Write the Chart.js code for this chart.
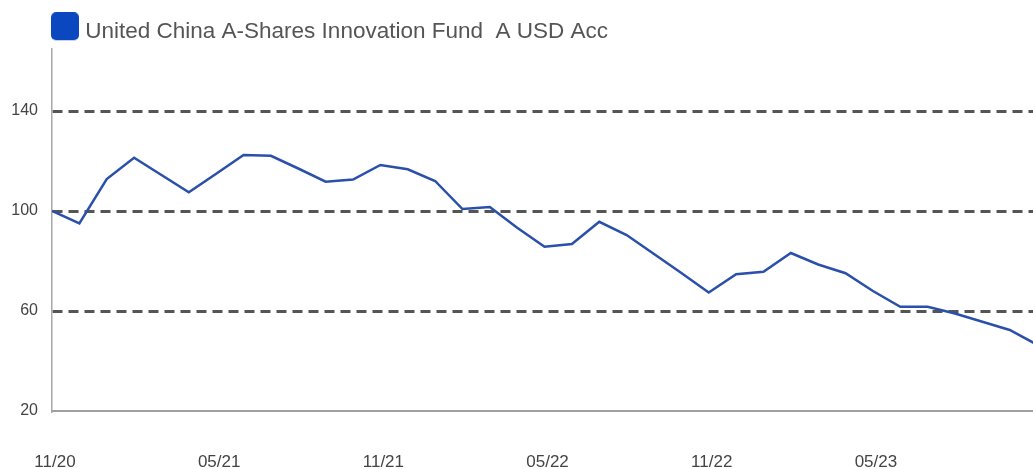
<!DOCTYPE html>
<html>
<head>
<meta charset="utf-8">
<script src="https://cdn.jsdelivr.net/npm/chart.js@4/dist/chart.umd.min.js"></script>
<style>
  html, body { margin: 0; padding: 0; background: #fff; }
  #wrap { width: 1033px; height: 469px; position: relative; }
</style>
</head>
<body>
<div id="wrap"><canvas id="c"></canvas></div>
<script>
const seriesName = 'United China A-Shares Innovation Fund  A USD Acc';
const months = ['11/20','12/20','01/21','02/21','03/21','04/21','05/21','06/21','07/21','08/21','09/21','10/21',
                '11/21','12/21','01/22','02/22','03/22','04/22','05/22','06/22','07/22','08/22','09/22','10/22',
                '11/22','12/22','01/23','02/23','03/23','04/23','05/23','06/23','07/23','08/23','09/23','10/23','11/23'];
const fundValues = [100, 95.0, 112.8, 121.3, 114.4, 107.5, 114.9, 122.4, 122.1, 117, 111.7, 112.6,
                    118.4, 116.7, 112, 100.8, 101.6, 93.3, 85.7, 86.8, 95.7, 90.4, 82.8, 75.2,
                    67.4, 74.7, 75.7, 83.2, 78.6, 75.1, 68, 61.7, 61.7, 59, 55.7, 52.4, 46.5];
const yTickValues = [20, 60, 100, 140];
const xTickIndices = [0, 6, 12, 18, 24, 30];

const lineColor = '#2a50aa';
const boxColor = '#0b48c0';
const FONT = '"Liberation Sans", Arial, sans-serif';

// legend marker: rounded square, placed within a slightly larger transparent canvas
const marker = document.createElement('canvas');
marker.width = 32; marker.height = 40;
(function () {
  const m = marker.getContext('2d');
  m.fillStyle = boxColor;
  m.beginPath();
  if (m.roundRect) { m.roundRect(4, 0, 28, 28, 5); } else { m.rect(4, 0, 28, 28); }
  m.fill();
})();

const legendShift = {
  id: 'legendShift',
  afterLayout(chart) {
    const lg = chart.legend;
    if (!lg) return;
    lg.left += 42; lg.right += 42;
    lg.top += 5; lg.bottom += 5;
  }
};

new Chart(document.getElementById('c'), {
  type: 'line',
  data: {
    datasets: [{
      label: seriesName,
      data: fundValues.map((v, i) => ({ x: i, y: v })),
      borderColor: lineColor,
      backgroundColor: boxColor,
      borderWidth: 2.5,
      pointRadius: 0,
      tension: 0,
      fill: false
    }]
  },
  plugins: [legendShift],
  options: {
    responsive: true,
    maintainAspectRatio: false,
    animation: false,
    parsing: false,
    layout: { padding: { left: 0, right: 0, top: 6, bottom: 0 } },
    plugins: {
      tooltip: { enabled: false },
      legend: {
        display: true,
        position: 'top',
        align: 'start',
        labels: {
          usePointStyle: true,
          pointStyleWidth: 22,
          boxHeight: 22,
          padding: 10,
          color: '#555',
          font: { family: FONT, size: 22.5 },
          generateLabels: (chart) => chart.data.datasets.map((ds, i) => ({
            text: ds.label,
            fillStyle: boxColor,
            strokeStyle: boxColor,
            lineWidth: 0,
            pointStyle: marker,
            fontColor: '#555',
            datasetIndex: i,
            hidden: false
          }))
        }
      }
    },
    scales: {
      x: {
        type: 'linear',
        min: 0,
        max: 35.85,
        grid: { display: false, drawTicks: true, tickLength: 41 },
        border: { display: true, color: '#a0a0a0', width: 2 },
        ticks: {
          autoSkip: false,
          maxRotation: 0,
          padding: 0,
          labelOffset: 3,
          color: '#444',
          font: { family: FONT, size: 17 },
          callback: (value) => months[value] ?? ''
        },
        afterBuildTicks: (s) => { s.ticks = xTickIndices.map(v => ({ value: v })); },
        afterFit: (s) => { s.height = 58; }
      },
      y: {
        min: 20,
        max: 165,
        grid: {
          drawTicks: false,
          color: (ctx) => (ctx.tick && ctx.tick.value === 20) ? 'rgba(0,0,0,0)' : '#555',
          lineWidth: 3
        },
        border: { display: true, color: '#a8a8a8', width: 1.5, dash: [10, 6] },
        ticks: {
          padding: 14,
          color: '#444',
          font: { family: FONT, size: 16 }
        },
        afterBuildTicks: (s) => { s.ticks = yTickValues.map(v => ({ value: v })); },
        afterFit: (s) => { s.width = 52; }
      }
    }
  }
});
</script>
</body>
</html>
